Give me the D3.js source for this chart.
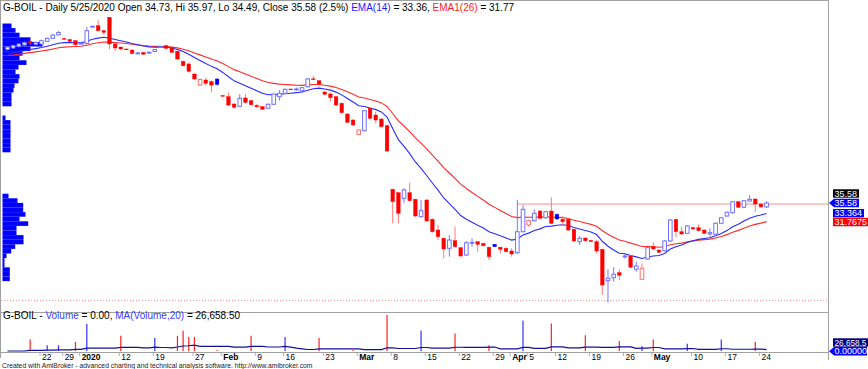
<!DOCTYPE html>
<html>
<head>
<meta charset="utf-8">
<script src="https://cdn.jsdelivr.net/npm/d3@7"></script>
<style>
body { margin: 0; background: #fff; }
svg { display: block; font-family: "Liberation Sans", Arial, sans-serif; }
</style>
</head>
<body>
<svg id="chart" width="868" height="369"></svg>
<script>
// daily bars, 15 Dec 2019 .. 25 May 2020
const opens = [68.95,69.28,69.60,69.93,70.69,70.04,70.15,70.73,71.38,72.14,71.34,71.12,70.86,70.25,70.30,73.95,74.12,73.04,75.95,70.15,
	69.49,69.06,68.84,68.12,68.30,68.30,68.51,69.54,69.78,69.43,68.56,66.38,65.80,63.62,61.23,62.32,61.95,62.54,58.95,58.69,
	57.10,56.60,58.41,57.82,56.78,56.51,56.17,57.04,58.69,59.43,60.36,60.32,59.99,60.86,62.58,62.17,59.71,59.28,58.69,57.25,
	54.93,53.62,50.51,51.30,56.17,54.71,53.84,52.38,38.56,37.82,36.60,37.82,36.38,32.60,36.23,32.04,29.71,27.91,25.73,27.38,
	25.86,24.27,26.93,27.17,26.78,25.95,26.60,25.95,25.73,25.15,24.78,29.34,30.80,31.73,33.84,32.38,33.84,33.12,32.04,32.04,
	29.86,27.17,27.97,27.43,27.17,25.51,18.69,19.34,20.43,24.01,24.06,21.17,18.99,23.41,26.08,25.36,25.21,27.32,32.04,29.34,
	28.99,30.21,30.21,29.71,28.86,28.78,31.17,32.75,33.47,35.86,34.65,36.01,36.45,35.36,34.73];
const highs = [69.71,70.04,70.36,70.69,70.91,70.69,71.12,71.56,72.32,72.97,71.45,71.34,71.01,70.58,73.91,74.17,75.36,73.19,76.01,70.47,
	69.60,69.17,68.95,68.41,68.41,68.51,69.06,69.71,69.93,69.60,68.73,66.56,66.12,63.84,62.65,62.86,62.21,62.75,59.06,59.65,
	57.32,59.28,59.28,57.97,57.10,56.67,57.21,59.38,60.15,60.47,60.47,60.69,60.80,62.75,63.25,62.32,59.93,59.65,58.84,57.43,
	55.15,53.84,51.56,55.80,56.34,55.43,54.06,52.54,38.73,37.97,38.78,39.99,36.56,36.23,36.45,32.21,30.80,28.08,28.62,30.43,
	26.01,27.32,27.91,27.32,26.88,26.12,26.67,26.08,25.91,25.73,36.23,35.15,31.99,34.21,34.06,33.84,36.82,33.30,32.75,32.21,
	30.04,28.41,28.08,27.54,27.54,25.69,21.17,21.60,21.17,24.49,24.27,22.82,22.47,26.01,27.04,25.47,27.54,32.10,32.10,30.43,
	30.80,30.36,30.95,29.82,30.08,31.34,32.54,33.73,36.01,36.01,36.23,37.32,36.56,35.47,35.97];
const lows = [68.73,69.06,69.38,69.71,70.04,69.82,69.93,70.58,71.23,71.99,71.12,70.58,69.82,70.04,70.15,73.84,72.86,72.17,69.06,68.62,
	68.84,68.84,67.97,67.97,67.75,68.08,68.41,69.38,69.06,68.19,66.67,65.25,63.95,62.32,61.01,61.12,59.65,61.12,58.73,56.67,
	56.12,56.45,57.21,56.67,56.23,55.80,56.01,56.88,57.82,59.28,60.15,60.04,59.43,60.69,62.32,60.86,59.06,57.60,56.67,55.04,
	52.97,52.32,50.36,51.12,53.84,52.91,51.99,46.67,31.17,31.17,35.51,35.91,32.54,32.43,31.45,29.17,27.54,23.56,23.91,25.91,
	23.84,24.06,26.08,24.99,26.12,23.19,26.01,24.65,24.82,23.91,24.49,29.17,30.43,31.56,32.10,32.21,31.01,31.88,30.80,29.49,
	27.10,26.45,27.21,27.10,24.65,15.58,13.91,18.47,18.84,23.47,21.45,20.65,18.84,23.19,25.43,24.71,25.04,27.10,28.12,28.62,
	28.84,29.82,29.34,28.84,28.25,28.62,31.01,32.60,33.30,34.49,34.49,35.86,33.69,34.60,34.49];
const closes = [69.49,69.82,70.15,70.47,70.25,70.47,70.86,71.38,72.10,72.64,71.23,70.69,69.99,70.30,73.04,73.99,73.04,72.69,70.15,69.28,
	69.06,68.93,68.08,68.19,67.93,68.34,68.95,69.60,69.21,68.34,66.88,65.43,64.21,62.54,62.43,61.60,61.23,61.34,58.84,56.88,
	56.38,58.34,57.47,56.95,56.49,55.95,57.04,59.28,59.43,60.30,60.23,60.36,60.65,62.54,62.45,61.45,59.21,58.47,56.88,55.21,
	53.12,52.54,51.45,55.65,53.99,53.62,52.17,46.88,35.86,33.34,38.41,36.08,32.75,33.91,31.67,29.34,28.25,25.58,27.54,26.08,
	24.06,26.93,26.99,26.60,26.30,23.91,26.08,25.51,24.99,24.49,29.34,34.21,31.73,33.34,32.25,33.69,31.17,32.10,31.51,29.71,
	27.32,27.91,27.38,27.17,25.15,17.75,19.21,20.08,19.86,24.06,21.60,21.88,21.38,25.86,25.58,24.86,27.32,31.88,29.34,28.84,
	30.58,29.93,29.56,28.99,29.12,31.17,32.38,33.56,35.86,34.65,36.08,36.38,35.36,34.71,35.58];

// volume only printed on a few days
const volDays = [4,7,9,12,14,20,26,30,31,32,33,37,43,49,55,61,67,73,79,85,91,96,102,108,112,114,120,126,132];
const volAmounts = [218000,110000,110000,174000,515000,290000,251000,290000,386000,270000,270000,19000,290000,270000,251000,19000,
	689000,386000,334000,110000,579000,527000,303000,193000,91000,218000,141000,218000,174000];

// volume at price, top bin first, 1.0 per bin
const vapTop = 74.60;
const vapStep = 1.0;
const vapVolume = [9,13,17,28,40,28,20,17,24,16,13,17,16,12,11,9,9,9,0,0,3,8,8,8,8,8,8,8,0,0,0,0,0,0,0,0,0,
	6,15,20.7,20.7,23,17,25.7,14,14,21,21,12.7,8.7,4,2,2,7.3,7.3,7.3];

// EMA values carried in from before the first bar
const ema14Start = 67.75;
const ema26Start = 67.43;

const tickIdx = [6,10,13,20,26,33,38,44,49,56,62,68,74,80,86,89,92,97,103,109,114,121,127,133];
const tickText = ["22","29","2020","12","19","27","Feb","9","16","23","Mar","8","15","22","29","Apr","5","12","19","26","May","10","17","24"];
const boldTicks = ["2020","Feb","Mar","Apr","May"];

const lineLevel = 35.36;   // horizontal line drawn from bar 90
const lineFrom = 90;
const lastEma14 = 33.364;
const lastEma26 = 31.7675;
const maVolumeLast = "26,658.5";

const RED = "#ff0000", BLUE = "#0000ff";

function ema(values, n, seed) {
	let a = 2 / (n + 1), prev = seed;
	return values.map(v => prev = prev + a * (v - prev));
}

function draw() {
	let svg = d3.select("#chart");
	let n = closes.length;

	let x = d3.scaleLinear().domain([0, n - 1]).range([7.5, 766.6]);
	let y = d3.scaleLinear().domain([13.84, 76.67]).range([303, 14]);

	let volumes = new Array(n).fill(0);
	volDays.forEach((d, k) => volumes[d] = volAmounts[k]);
	let yv = d3.scaleLinear().domain([0, d3.max(volumes)]).range([351, 315]);

	// frame
	let frame = svg.append("g").attr("stroke", "#a0a0a0").attr("shape-rendering", "crispEdges");
	frame.append("line").attr("x1", 0.5).attr("x2", 0.5).attr("y1", 0).attr("y2", 358);
	frame.append("line").attr("x1", 0).attr("x2", 828).attr("y1", 0.5).attr("y2", 0.5);
	frame.append("line").attr("x1", 828.5).attr("x2", 828.5).attr("y1", 0).attr("y2", 360);
	frame.append("line").attr("x1", 0).attr("x2", 828).attr("y1", 312.5).attr("y2", 312.5);
	frame.append("line").attr("x1", 0).attr("x2", 828).attr("y1", 352.5).attr("y2", 352.5);

	// volume at price
	let vx = d3.scaleLinear().domain([0, d3.max(vapVolume)]).range([0, 40]);
	svg.append("g").selectAll("rect").data(vapVolume).join("rect")
		.attr("x", 2.5)
		.attr("y", (d, k) => y(vapTop - k * vapStep))
		.attr("width", d => vx(d))
		.attr("height", (d, k) => y(vapTop - (k + 1) * vapStep) - y(vapTop - k * vapStep))
		.attr("fill", BLUE);

	// dotted line at bottom of price pane
	svg.append("line").attr("x1", 1).attr("x2", 828).attr("y1", 300.5).attr("y2", 300.5)
		.attr("stroke", "#ff9a9a").attr("stroke-dasharray", "1,2");

	// horizontal line
	svg.append("line").attr("x1", x(lineFrom)).attr("x2", 828)
		.attr("y1", y(lineLevel)).attr("y2", y(lineLevel))
		.attr("stroke", "#ff8c8c").attr("stroke-width", 1);

	// EMAs
	let e14 = ema(closes, 14, ema14Start);
	let e26 = ema(closes, 26, ema26Start);
	let path = d3.line().x((d, i) => x(i)).y(d => y(d));
	svg.append("path").attr("d", path(e26)).attr("fill", "none").attr("stroke", "#ff2a2a").attr("stroke-width", 1.1);
	svg.append("path").attr("d", path(e14)).attr("fill", "none").attr("stroke", "#2a2aff").attr("stroke-width", 1.1);

	// candles
	let bars = closes.map((c, i) => ({
		i: i, o: opens[i], h: highs[i], l: lows[i], c: c,
		up: i == 0 || c >= closes[i - 1],
		hollow: c > opens[i]
	}));
	let g = svg.append("g");
	g.selectAll("line").data(bars).join("line")
		.attr("x1", d => x(d.i)).attr("x2", d => x(d.i))
		.attr("y1", d => y(d.h)).attr("y2", d => y(d.l))
		.attr("stroke", d => d.up ? "#7878ff" : "#ff7878");
	g.selectAll("rect").data(bars).join("rect")
		.attr("x", d => x(d.i) - 1.8)
		.attr("width", 3.6)
		.attr("y", d => y(Math.max(d.o, d.c)))
		.attr("height", d => Math.max(0.8, Math.abs(y(d.o) - y(d.c))))
		.attr("fill", d => d.hollow ? "#fff" : (d.up ? BLUE : RED))
		.attr("stroke", d => d.hollow ? (d.up ? "#7070ff" : "#ff7070") : (d.up ? BLUE : RED))
		.attr("stroke-width", d => d.hollow ? 1 : 0.4);

	// volume pane
	svg.append("g").selectAll("line").data(bars.filter(d => volumes[d.i] > 0)).join("line")
		.attr("x1", d => x(d.i)).attr("x2", d => x(d.i))
		.attr("y1", yv(0)).attr("y2", d => yv(volumes[d.i]))
		.attr("stroke", d => d.c >= d.o ? "#3030ff" : "#ff2020")
		.attr("stroke-width", 1.2);
	let ma = volumes.map((v, i) => d3.sum(volumes.slice(Math.max(0, i - 19), i + 1)) / 20);
	svg.append("path")
		.attr("d", d3.line().x((d, i) => x(i)).y(d => yv(d))(ma))
		.attr("fill", "none").attr("stroke", "#10109a").attr("stroke-width", 1.2);

	// date axis
	let ax = svg.append("g");
	ax.selectAll("line").data(tickIdx).join("line")
		.attr("x1", d => x(d) - 1.5).attr("x2", d => x(d) - 1.5)
		.attr("y1", 353).attr("y2", 356)
		.attr("stroke", "#b0b0b0");
	ax.selectAll("text").data(tickIdx).join("text")
		.attr("x", (d, k) => x(d) + 0.5)
		.attr("y", 360)
		.attr("font-size", 8.5)
		.attr("font-weight", (d, k) => boldTicks.includes(tickText[k]) ? "bold" : "normal")
		.attr("fill", "#000")
		.text((d, k) => tickText[k]);

	// titles
	let title = svg.append("text").attr("x", 3).attr("y", 10.5).attr("font-size", 10);
	[["G-BOIL - Daily 5/25/2020 Open 34.73, Hi 35.97, Lo 34.49, Close 35.58 (2.5%) ", "#000"],
	 ["EMA(14)", "#1a1aff"], [" = 33.36, ", "#000"], ["EMA1(26)", "#ff1a1a"], [" = 31.77", "#000"]]
		.forEach(p => title.append("tspan").attr("fill", p[1]).text(p[0]));

	let vtitle = svg.append("text").attr("x", 3).attr("y", 319).attr("font-size", 10);
	[["G-BOIL - ", "#000"], ["Volume", "#3a3aff"], [" = 0.00, ", "#000"], ["MA(Volume,20)", "#3a3aff"], [" = 26,658.50", "#000"]]
		.forEach(p => vtitle.append("tspan").attr("fill", p[1]).text(p[0]));

	svg.append("text").attr("x", 2).attr("y", 367.5).attr("font-size", 6.8).attr("fill", "#222")
		.text("Created with AmiBroker - advanced charting and technical analysis software. http://www.amibroker.com");

	// right side value labels
	function label(yc, text, bg, arrow, w, fs) {
		let gl = svg.append("g");
		if (arrow) {
			gl.append("path")
				.attr("d", `M829,${yc} L834,${yc - 4.2} L${834 + w},${yc - 4.2} L${834 + w},${yc + 4.2} L834,${yc + 4.2} Z`)
				.attr("fill", bg);
		} else {
			gl.append("rect").attr("x", 833).attr("y", yc - 4.2).attr("width", w + 1).attr("height", 8.4).attr("fill", bg);
		}
		gl.append("text").attr("x", 834.5).attr("y", yc + 3.2).attr("font-size", fs || 9).attr("fill", "#fff").text(text);
	}
	let cl = closes[n - 1];
	label(y(cl) - 9.5, cl.toFixed(2), "#000", false, 25);
	label(y(cl), cl.toFixed(2), BLUE, true, 25);
	label(y(lastEma14), String(lastEma14), BLUE, false, 30);
	label(y(lastEma26) + 1.5, String(lastEma26), RED, false, 34);
	label(342.5, maVolumeLast, "#000080", false, 34, 8.2);
	label(351.2, "0.00000", BLUE, true, 33);
}

draw();
</script>
</body>
</html>
